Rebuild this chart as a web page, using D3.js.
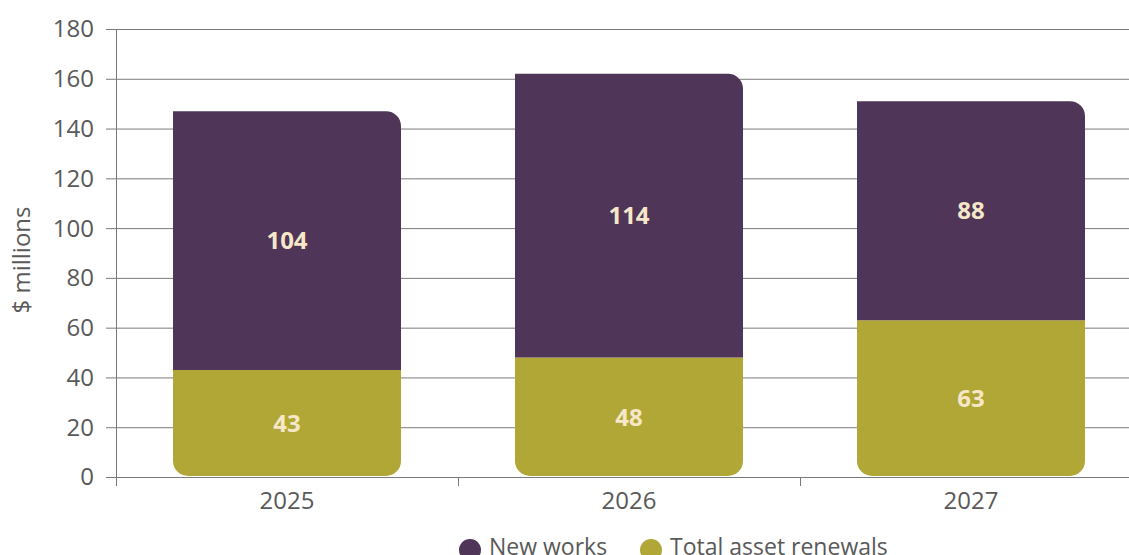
<!DOCTYPE html>
<html>
<head>
<meta charset="utf-8">
<script src="https://cdn.jsdelivr.net/npm/d3@7"></script>
<style>
  html, body { margin: 0; padding: 0; background: #fff; }
  svg { display: block; font-family: "Open Sans", "Noto Sans", sans-serif; }
</style>
</head>
<body>
<svg id="chart" width="1129" height="555"></svg>
<script>
// Capital works programme by year ($ millions)
const years = ["2025", "2026", "2027"];
const renewals = [43, 48, 63];
const newWorks = [104, 114, 88];
const seriesNames = ["New works", "Total asset renewals"];
const yTicks = [0, 20, 40, 60, 80, 100, 120, 140, 160, 180];

const colors = { newWorks: "#4f3558", renewals: "#b0a736" };
const W = 1129, H = 555;
const plotLeft = 116, plotTop = 29, plotBottom = 477;
const fontSize = 24;
const textGrey = "#595959";

const svg = d3.select("#chart");

const x = d3.scaleBand()
  .domain(years)
  .range([plotLeft, plotLeft + 1026])
  .paddingInner(1 / 3)
  .paddingOuter(1 / 6);

const y = d3.scaleLinear().domain([0, 180]).range([plotBottom, plotTop]);

// Gridlines
svg.append("g")
  .selectAll("line")
  .data(yTicks)
  .join("line")
  .attr("x1", plotLeft - 10)
  .attr("x2", W)
  .attr("y1", d => y(d) + 0.5)
  .attr("y2", d => y(d) + 0.5)
  .attr("stroke", "#7a7a7a")
  .attr("stroke-width", 1);

// Y axis line
svg.append("line")
  .attr("x1", plotLeft + 0.5).attr("x2", plotLeft + 0.5)
  .attr("y1", plotTop).attr("y2", plotBottom + 8)
  .attr("stroke", "#7a7a7a");

// Y tick labels
svg.append("g")
  .selectAll("text")
  .data(yTicks)
  .join("text")
  .attr("x", 94)
  .attr("y", d => y(d))
  .attr("dy", "0.35em")
  .attr("text-anchor", "end")
  .attr("font-size", fontSize)
  .attr("fill", textGrey)
  .text(d => d);

// Y axis title
svg.append("text")
  .attr("transform", "translate(30, 260) rotate(-90)")
  .attr("text-anchor", "middle")
  .attr("font-size", fontSize)
  .attr("fill", textGrey)
  .text("$ millions");

// X category boundary ticks
const step = x.step();
svg.append("g")
  .selectAll("line")
  .data(years)
  .join("line")
  .attr("x1", d => Math.round(x(d) - step * x.paddingInner() / 2) + 0.5)
  .attr("x2", d => Math.round(x(d) - step * x.paddingInner() / 2) + 0.5)
  .attr("y1", plotBottom)
  .attr("y2", plotBottom + 9)
  .attr("stroke", "#7a7a7a");

// X labels
svg.append("g")
  .selectAll("text")
  .data(years)
  .join("text")
  .attr("x", d => x(d) + x.bandwidth() / 2)
  .attr("y", plotBottom + 24)
  .attr("dy", "0.35em")
  .attr("text-anchor", "middle")
  .attr("font-size", fontSize)
  .attr("fill", textGrey)
  .text(d => d);

// Rectangle path with individually rounded corners
function roundedRect(x0, y0, w, h, r) {
  const [tl, tr, br, bl] = r;
  return `M${x0 + tl},${y0}` +
    `H${x0 + w - tr}` + (tr ? `A${tr},${tr} 0 0 1 ${x0 + w},${y0 + tr}` : "") +
    `V${y0 + h - br}` + (br ? `A${br},${br} 0 0 1 ${x0 + w - br},${y0 + h}` : "") +
    `H${x0 + bl}` + (bl ? `A${bl},${bl} 0 0 1 ${x0},${y0 + h - bl}` : "") +
    `V${y0 + tl}` + (tl ? `A${tl},${tl} 0 0 1 ${x0 + tl},${y0}` : "") + "Z";
}

const rad = 15;
const rows = years.map((yr, i) => ({ yr, ren: renewals[i], nw: newWorks[i] }));

const bars = svg.append("g");
// Renewals (bottom segment)
bars.selectAll("path.ren")
  .data(rows)
  .join("path")
  .attr("class", "ren")
  .attr("fill", colors.renewals)
  .attr("d", d => roundedRect(x(d.yr), y(d.ren), x.bandwidth(), y(0) - y(d.ren) - 1, [0, 0, rad, rad]));

// New works (top segment)
bars.selectAll("path.nw")
  .data(rows)
  .join("path")
  .attr("class", "nw")
  .attr("fill", colors.newWorks)
  .attr("d", d => roundedRect(x(d.yr), y(d.ren + d.nw), x.bandwidth(), y(d.ren) - y(d.ren + d.nw), [0, rad, 0, 0]));

// Value labels
const lbl = svg.append("g")
  .attr("font-size", fontSize)
  .attr("font-weight", "bold")
  .attr("fill", "#f6e7c8")
  .attr("text-anchor", "middle");

lbl.selectAll("text.ren")
  .data(rows)
  .join("text")
  .attr("class", "ren")
  .attr("x", d => x(d.yr) + x.bandwidth() / 2)
  .attr("y", d => y(d.ren / 2))
  .attr("dy", "0.35em")
  .text(d => d.ren);

lbl.selectAll("text.nw")
  .data(rows)
  .join("text")
  .attr("class", "nw")
  .attr("x", d => x(d.yr) + x.bandwidth() / 2)
  .attr("y", d => y(d.ren + d.nw / 2))
  .attr("dy", "0.35em")
  .text(d => d.nw);

// Legend along the bottom edge
const legendItems = [
  { name: seriesNames[0], color: colors.newWorks, cx: 470 },
  { name: seriesNames[1], color: colors.renewals, cx: 651 }
];
const lg = svg.append("g").selectAll("g").data(legendItems).join("g");
lg.append("circle")
  .attr("cx", d => d.cx)
  .attr("cy", 550)
  .attr("r", 11)
  .attr("fill", d => d.color);
lg.append("text")
  .attr("x", d => d.cx + 19)
  .attr("y", 555)
  .attr("font-size", 23)
  .attr("fill", textGrey)
  .text(d => d.name);
</script>
</body>
</html>
